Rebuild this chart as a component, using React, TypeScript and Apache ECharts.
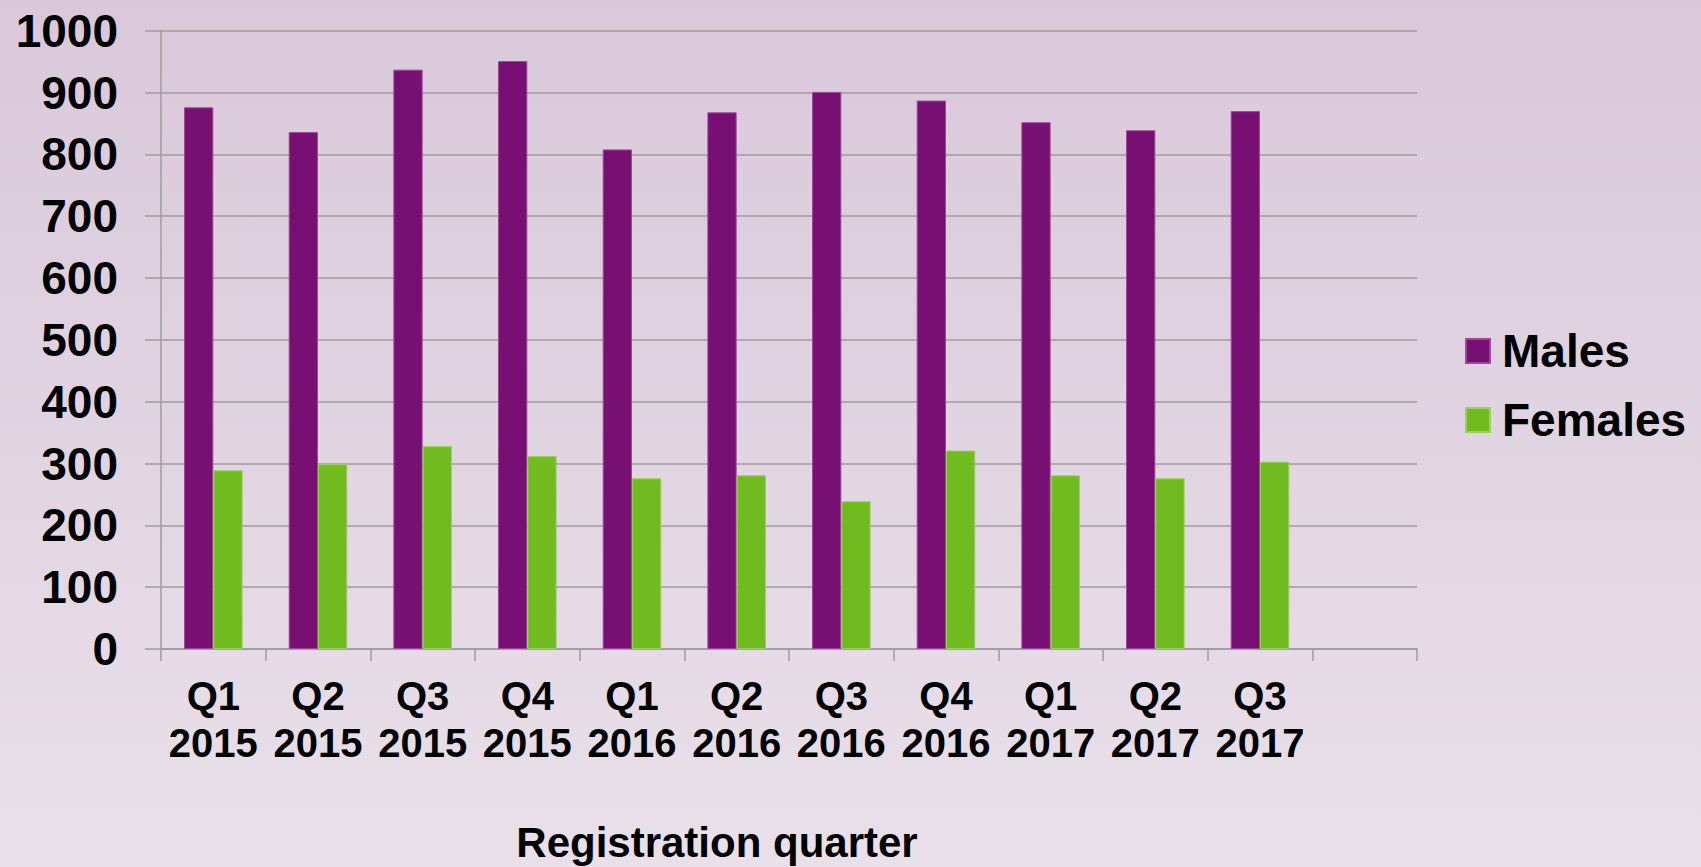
import React, { useEffect, useRef } from "react";
import * as echarts from "echarts";

const categories = [
  "Q1\n2015", "Q2\n2015", "Q3\n2015", "Q4\n2015",
  "Q1\n2016", "Q2\n2016", "Q3\n2016", "Q4\n2016",
  "Q1\n2017", "Q2\n2017", "Q3\n2017", "",
];
const males = [876, 836, 937, 951, 808, 868, 901, 887, 852, 839, 870];
const females = [289, 299, 328, 312, 276, 281, 239, 321, 281, 276, 303];
const seriesNames = ["Males", "Females"];
const axisName = "Registration quarter";

const FONT = "'Liberation Sans', Arial, sans-serif";

export default function App() {
  const ref = useRef<HTMLDivElement>(null);
  useEffect(() => {
    if (!ref.current) return;
    const chart = echarts.init(ref.current, null, { renderer: "svg" });
    const gridColor = "#a09aa0";
    chart.setOption({
      animation: false,
      backgroundColor: "transparent",
      textStyle: { fontFamily: FONT },
      grid: {
        left: 161,
        right: 284,
        top: 30.7,
        bottom: 218,
        containLabel: false,
        outerBoundsMode: "none",
      },
      legend: {
        orient: "vertical",
        left: 1465,
        top: 328,
        padding: 0,
        itemWidth: 24,
        itemHeight: 24,
        itemGap: 23,
        icon: "rect",
        data: seriesNames,
        textStyle: {
          fontFamily: FONT,
          fontSize: 46,
          fontWeight: "bold",
          color: "#000",
          lineHeight: 46,
          padding: [0, 0, 0, 7],
        },
      },
      xAxis: {
        type: "category",
        data: categories,
        boundaryGap: true,
        axisLine: { show: true, lineStyle: { color: gridColor, width: 1.5 } },
        axisTick: {
          show: true,
          alignWithLabel: false,
          length: 12,
          lineStyle: { color: gridColor, width: 1.5 },
        },
        axisLabel: {
          interval: 0,
          margin: 23,
          fontFamily: FONT,
          fontSize: 40,
          fontWeight: "bold",
          color: "#000",
          lineHeight: 47,
        },
        splitLine: { show: false },
      },
      yAxis: {
        type: "value",
        min: 0,
        max: 1000,
        interval: 100,
        axisLine: { show: true, lineStyle: { color: gridColor, width: 1.5 } },
        axisTick: {
          show: true,
          inside: false,
          length: 16,
          lineStyle: { color: gridColor, width: 1.5 },
        },
        axisLabel: {
          margin: 43,
          fontFamily: FONT,
          fontSize: 46,
          fontWeight: "bold",
          color: "#000",
          formatter: (v: number) => String(v),
        },
        splitLine: { show: true, lineStyle: { color: gridColor, width: 1.5 } },
      },
      graphic: [
        {
          type: "text",
          x: 717,
          y: 842,
          style: {
            text: axisName,
            fontFamily: FONT,
            fontSize: 42,
            fontWeight: "bold",
            fill: "#000",
            align: "center",
            verticalAlign: "middle",
          },
        },
      ],
      series: [
        {
          name: seriesNames[0],
          type: "bar",
          data: males,
          barWidth: "28%",
          barGap: "0%",
          itemStyle: { color: "#780f73", borderColor: "#9b4a97", borderWidth: 1 },
        },
        {
          name: seriesNames[1],
          type: "bar",
          data: females,
          barWidth: "28%",
          barGap: "0%",
          itemStyle: { color: "#70bb20", borderColor: "#98d25e", borderWidth: 1 },
        },
      ],
    });
    return () => chart.dispose();
  }, []);
  return (
    <div
      style={{
        position: "fixed",
        left: 0,
        top: 0,
        width: 1701,
        height: 867,
        background: "linear-gradient(to bottom, #d9c8da 0%, #e9e0e9 100%)",
      }}
    >
      <div ref={ref} style={{ width: 1701, height: 867 }} />
    </div>
  );
}
